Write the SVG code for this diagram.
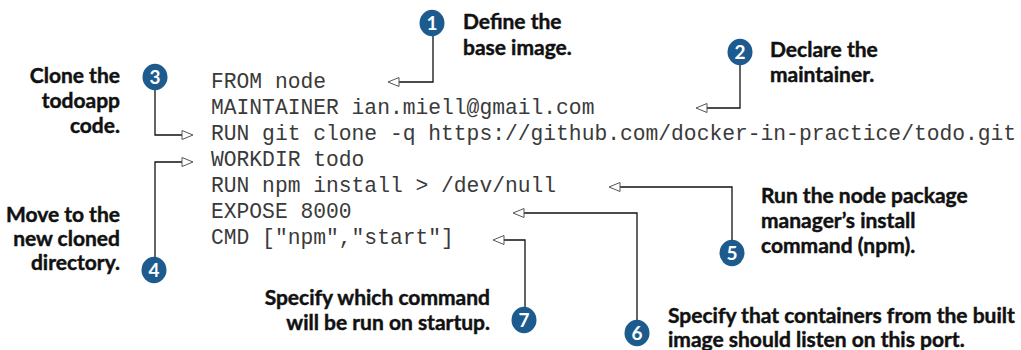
<svg xmlns="http://www.w3.org/2000/svg" width="1021" height="350" viewBox="0 0 1021 350">
  <style>
    .code { font-family: "Liberation Mono", "Courier New", monospace; font-size: 21.3px; fill: #3a3a3a; }
    .label { font-family: Lato, "Open Sans", sans-serif; font-weight: 700; font-size: 21px; fill: #111; stroke: #111; stroke-width: 0.45px; }
    .badge circle { fill: #1d5b8f; }
    .badge text { font-family: Lato, "Open Sans", sans-serif; font-weight: 700; font-size: 19px; fill: #fff; text-anchor: middle; }
    .leader { fill: none; stroke: #111; stroke-width: 1.3; marker-end: url(#open-arrow); }
    .end { text-anchor: end; }
  </style>
  <defs>
    <marker id="open-arrow" markerUnits="userSpaceOnUse" markerWidth="14" markerHeight="12" refX="0" refY="4.5" orient="auto" overflow="visible">
      <path d="M0,0 L11,4.5 L0,9 Z" fill="#fff" stroke="#555" stroke-width="1"/>
    </marker>
  </defs>

  <rect width="1021" height="350" fill="#fff"/>

  <!-- Dockerfile listing -->
  <g id="dockerfile" class="code">
    <text x="211" y="88">FROM node</text>
    <text x="211" y="114">MAINTAINER ian.miell@gmail.com</text>
    <text x="211" y="140">RUN git clone -q https://github.com/docker-in-practice/todo.git</text>
    <text x="211" y="166">WORKDIR todo</text>
    <text x="211" y="192">RUN npm install &gt; /dev/null</text>
    <text x="211" y="218">EXPOSE 8000</text>
    <text x="211" y="244">CMD ["npm","start"]</text>
  </g>

  <!-- leader lines from each callout to its instruction -->
  <g id="connectors">
    <path class="leader" d="M433,36 V82 H399"/>
    <path class="leader" d="M740,65 V108 H707"/>
    <path class="leader" d="M155,90 V135 H182"/>
    <path class="leader" d="M155,257 V162 H182"/>
    <path class="leader" d="M732,240 V187 H620"/>
    <path class="leader" d="M637,320 V213 H524"/>
    <path class="leader" d="M525,307 V240 H504"/>
  </g>

  <g id="callout-1">
    <g class="badge"><ellipse cx="432" cy="23" rx="12.5" ry="13.2" fill="#1d5b8f"/><text x="432" y="30">1</text></g>
    <text class="label" x="463" y="29">Define the</text>
    <text class="label" x="463" y="55">base image.</text>
  </g>

  <g id="callout-2">
    <g class="badge"><ellipse cx="740" cy="52" rx="12.5" ry="13.2" fill="#1d5b8f"/><text x="740" y="59">2</text></g>
    <text class="label" x="770" y="57">Declare the</text>
    <text class="label" x="770" y="82">maintainer.</text>
  </g>

  <g id="callout-3">
    <g class="badge"><ellipse cx="155" cy="77" rx="12.5" ry="13.2" fill="#1d5b8f"/><text x="155" y="84">3</text></g>
    <text class="label end" x="120" y="83">Clone the</text>
    <text class="label end" x="120" y="108">todoapp</text>
    <text class="label end" x="120" y="133">code.</text>
  </g>

  <g id="callout-4">
    <g class="badge"><ellipse cx="154" cy="270" rx="12.5" ry="13.2" fill="#1d5b8f"/><text x="154" y="277">4</text></g>
    <text class="label end" x="120" y="222">Move to the</text>
    <text class="label end" x="120" y="246">new cloned</text>
    <text class="label end" x="120" y="270">directory.</text>
  </g>

  <g id="callout-5">
    <g class="badge"><ellipse cx="732" cy="253" rx="12.5" ry="13.2" fill="#1d5b8f"/><text x="732" y="260">5</text></g>
    <text class="label" x="761" y="203">Run the node package</text>
    <text class="label" x="761" y="228">manager’s install</text>
    <text class="label" x="761" y="253">command (npm).</text>
  </g>

  <g id="callout-6">
    <g class="badge"><ellipse cx="637" cy="333" rx="12.5" ry="13.2" fill="#1d5b8f"/><text x="637" y="340">6</text></g>
    <text class="label" x="668" y="323">Specify that containers from the built</text>
    <text class="label" x="668" y="347">image should listen on this port.</text>
  </g>

  <g id="callout-7">
    <g class="badge"><ellipse cx="524" cy="320" rx="12.5" ry="13.2" fill="#1d5b8f"/><text x="524" y="327">7</text></g>
    <text class="label end" x="490" y="305">Specify which command</text>
    <text class="label end" x="490" y="330">will be run on startup.</text>
  </g>
</svg>
